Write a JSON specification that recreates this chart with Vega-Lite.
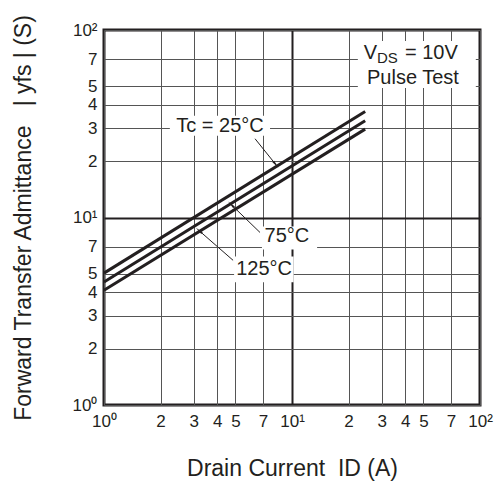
{
  "$schema": "https://vega.github.io/schema/vega-lite/v6.json",
  "width": 376,
  "height": 375,
  "autosize": "none",
  "padding": {"left": 104, "top": 30, "right": 23, "bottom": 88},
  "background": "white",
  "config": {
    "font": "Liberation Sans",
    "view": {"stroke": "#231f20", "strokeWidth": 3},
    "axis": {
      "labelFont": "Liberation Sans",
      "titleFont": "Liberation Sans",
      "titleFontSize": 23,
      "titleFontWeight": "normal",
      "labelColor": "#231f20",
      "titleColor": "#231f20",
      "labelOverlap": false,
      "domain": false,
      "ticks": false,
      "gridColor": {"condition": {"test": "datum.value == 10", "value": "#231f20"}, "value": "#555555"},
      "gridWidth": {"condition": {"test": "datum.value == 10", "value": 2}, "value": 1},
      "gridOpacity": 1
    }
  },
  "datasets": {
    "curves": [
      {"tc": "25", "id": 1, "yfs": 5.05},
      {"tc": "25", "id": 24.5, "yfs": 36.8},
      {"tc": "75", "id": 1, "yfs": 4.53},
      {"tc": "75", "id": 24.5, "yfs": 32.8},
      {"tc": "125", "id": 1, "yfs": 4.09},
      {"tc": "125", "id": 24.5, "yfs": 29.6}
    ],
    "boxes": [
      {"box": "cond", "id": 22.4, "id2": 95, "yfs": 49.1, "yfs2": 87.4},
      {"box": "25", "id": 2.24, "id2": 7.64, "yfs": 27.3, "yfs2": 34.9},
      {"box": "75", "id": 6.92, "id2": 13.6, "yfs": 6.76, "yfs2": 8.96},
      {"box": "125", "id": 4.92, "id2": 10.2, "yfs": 4.51, "yfs2": 6.2}
    ],
    "labels": [
      {"text": "Pulse Test", "id": 44, "yfs": 55.6},
      {"text": "Tc = 25°C", "id": 4.14, "yfs": 30.9},
      {"text": "75°C", "id": 9.4, "yfs": 7.92},
      {"text": "125°C", "id": 7.1, "yfs": 5.29}
    ],
    "vds": [
      {"id": 44, "yfs": 75.5}
    ],
    "arrows": [
      {"arrow": "25", "id": 6.36, "yfs": 26.3, "id2": 8.12, "yfs2": 19.4},
      {"arrow": "75", "id": 6.76, "yfs": 8.32, "id2": 4.8, "yfs2": 11.6},
      {"arrow": "125", "id": 4.86, "yfs": 5.91, "id2": 3.24, "yfs2": 8.43}
    ]
  },
  "layer": [
    {
      "data": {"name": "boxes"},
      "mark": {"type": "rect", "color": "white", "opacity": 1},
      "encoding": {
        "x": {
          "field": "id", "type": "quantitative",
          "scale": {"type": "log", "domain": [1, 100], "nice": false},
          "axis": {
            "values": [1, 2, 3, 4, 5, 7, 10, 20, 30, 40, 50, 70, 100],
            "labelExpr": "datum.value == 1 ? '10⁰' : datum.value == 10 ? '10¹' : datum.value == 100 ? '10²' : datum.value > 10 ? format(datum.value / 10, 'd') : datum.label",
            "labelPadding": 8,
            "labelFontSize": 17,
            "labelFlush": false,
            "title": "Drain Current\u00a0\u00a0ID (A)",
            "titlePadding": 28
          }
        },
        "x2": {"field": "id2"},
        "y": {
          "field": "yfs", "type": "quantitative",
          "scale": {"type": "log", "domain": [1, 100], "nice": false},
          "axis": {
            "values": [1, 2, 3, 4, 5, 7, 10, 20, 30, 40, 50, 70, 100],
            "labelExpr": "datum.value == 1 ? '10⁰' : datum.value == 10 ? '10¹' : datum.value == 100 ? '10²' : datum.value > 10 ? format(datum.value / 10, 'd') : datum.label",
            "labelPadding": 7,
            "labelFontSize": 17,
            "labelFlush": false,
            "title": "Forward Transfer Admittance\u00a0\u00a0\u00a0| yfs | (S)",
            "titlePadding": 37
          }
        },
        "y2": {"field": "yfs2"}
      }
    },
    {
      "data": {"name": "curves"},
      "mark": {"type": "line", "color": "#231f20", "strokeWidth": 3},
      "encoding": {
        "x": {"field": "id", "type": "quantitative"},
        "y": {"field": "yfs", "type": "quantitative"},
        "detail": {"field": "tc"}
      }
    },
    {
      "data": {"name": "arrows"},
      "mark": {"type": "rule", "color": "#231f20", "strokeWidth": 1},
      "encoding": {
        "x": {"field": "id", "type": "quantitative"},
        "y": {"field": "yfs", "type": "quantitative"},
        "x2": {"field": "id2"},
        "y2": {"field": "yfs2"}
      }
    },
    {
      "data": {"name": "arrows"},
      "transform": [{"filter": "datum.arrow == '25'"}],
      "mark": {"type": "point", "shape": "wedge", "filled": true, "color": "#231f20", "size": 90, "angle": 141, "opacity": 1},
      "encoding": {
        "x": {"field": "id2", "type": "quantitative"},
        "y": {"field": "yfs2", "type": "quantitative"}
      }
    },
    {
      "data": {"name": "arrows"},
      "transform": [{"filter": "datum.arrow == '75'"}],
      "mark": {"type": "point", "shape": "wedge", "filled": true, "color": "#231f20", "size": 90, "angle": 314, "opacity": 1},
      "encoding": {
        "x": {"field": "id2", "type": "quantitative"},
        "y": {"field": "yfs2", "type": "quantitative"}
      }
    },
    {
      "data": {"name": "arrows"},
      "transform": [{"filter": "datum.arrow == '125'"}],
      "mark": {"type": "point", "shape": "wedge", "filled": true, "color": "#231f20", "size": 90, "angle": 311, "opacity": 1},
      "encoding": {
        "x": {"field": "id2", "type": "quantitative"},
        "y": {"field": "yfs2", "type": "quantitative"}
      }
    },
    {
      "data": {"name": "labels"},
      "mark": {"type": "text", "fontSize": 20, "color": "#231f20"},
      "encoding": {
        "x": {"field": "id", "type": "quantitative"},
        "y": {"field": "yfs", "type": "quantitative"},
        "text": {"field": "text"}
      }
    },
    {
      "data": {"name": "vds"},
      "mark": {"type": "text", "fontSize": 20, "color": "#231f20", "align": "right", "dx": -36, "text": "V"},
      "encoding": {
        "x": {"field": "id", "type": "quantitative"},
        "y": {"field": "yfs", "type": "quantitative"}
      }
    },
    {
      "data": {"name": "vds"},
      "mark": {"type": "text", "fontSize": 15, "color": "#231f20", "align": "left", "dx": -36, "dy": 5, "text": "DS"},
      "encoding": {
        "x": {"field": "id", "type": "quantitative"},
        "y": {"field": "yfs", "type": "quantitative"}
      }
    },
    {
      "data": {"name": "vds"},
      "mark": {"type": "text", "fontSize": 20, "color": "#231f20", "align": "left", "dx": -8, "text": "= 10V"},
      "encoding": {
        "x": {"field": "id", "type": "quantitative"},
        "y": {"field": "yfs", "type": "quantitative"}
      }
    }
  ]
}
